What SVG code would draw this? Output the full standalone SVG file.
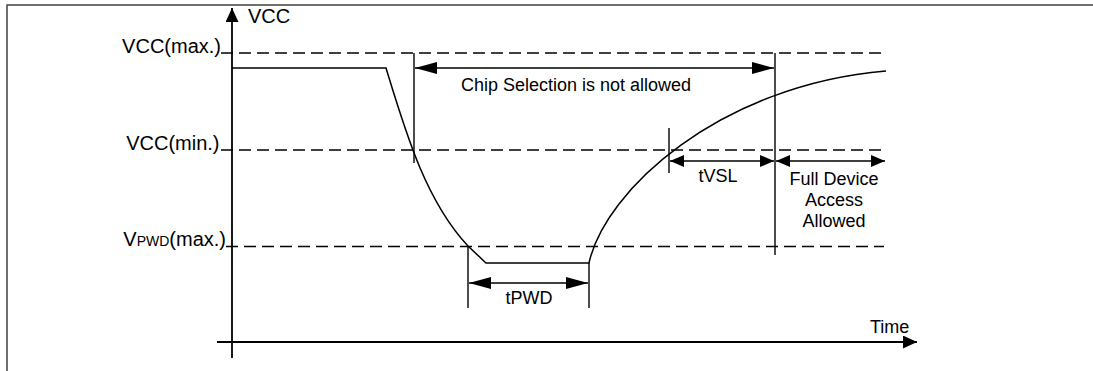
<svg xmlns="http://www.w3.org/2000/svg" width="1093" height="371" viewBox="0 0 1093 371">
<style>
text{font-family:"Liberation Sans",Arial,sans-serif;fill:#000}
.lbl{font-size:20px}
.sm{font-size:18px}
.mid{text-anchor:middle}
.end{text-anchor:end}
.axis{stroke:#000;stroke-width:1.8;fill:none}
.dash{stroke:#000;stroke-width:1.4;stroke-dasharray:12 6;fill:none}
.sig{stroke:#000;stroke-width:1.5;fill:none}
.mark{stroke:#000;stroke-width:1.4;fill:none}
.dimL{stroke:#000;stroke-width:1.6;fill:none;marker-start:url(#ahL);marker-end:url(#ahL)}
.dimS{stroke:#000;stroke-width:1.6;fill:none;marker-start:url(#ahS);marker-end:url(#ahS)}
</style>
<defs>
<marker id="ahL" markerUnits="userSpaceOnUse" markerWidth="22" markerHeight="12" viewBox="0 0 22 12" refX="22" refY="6" orient="auto-start-reverse"><path d="M0,0 L22,6 L0,12 Z" fill="#000"/></marker>
<marker id="ahS" markerUnits="userSpaceOnUse" markerWidth="14" markerHeight="12" viewBox="0 0 14 12" refX="14" refY="6" orient="auto-start-reverse"><path d="M0,0 L14,6 L0,12 Z" fill="#000"/></marker>
<marker id="ahA" markerUnits="userSpaceOnUse" markerWidth="14" markerHeight="13" viewBox="0 0 14 13" refX="14" refY="6.5" orient="auto"><path d="M0,0 L14,6.5 L0,13 Z" fill="#000"/></marker>
</defs>
<rect id="frame" x="7" y="5" width="1100" height="400" fill="#fff" stroke="#333" stroke-width="1.4"/>
<g id="axes">
<line class="axis" x1="232" y1="358" x2="232" y2="8" marker-end="url(#ahA)"/>
<line class="axis" x1="217" y1="342" x2="917" y2="342" marker-end="url(#ahA)"/>
<text class="lbl" x="248" y="23">VCC</text>
<text class="sm" x="870" y="333">Time</text>
</g>
<g id="levels">
<line class="dash" x1="221" y1="53" x2="882" y2="53"/>
<line class="dash" x1="221" y1="150" x2="882" y2="150"/>
<line class="dash" x1="226" y1="246.5" x2="884" y2="246.5"/>
<text class="lbl end" x="221" y="53">VCC(max.)</text>
<text class="lbl end" x="219.5" y="150">VCC(min.)</text>
<text class="lbl end" x="226" y="246">V<tspan font-size="14">PWD</tspan>(max.)</text>
</g>
<g id="signal">
<path class="sig" d="M232,68 L386,68 C405,130 425,200 468,246 L486,263 L589,263 C605,190 720,85 886,71"/>
</g>
<g id="markers">
<line class="mark" x1="414" y1="53" x2="414" y2="163"/>
<line class="mark" x1="775" y1="53" x2="775" y2="255"/>
<line class="mark" x1="669" y1="128" x2="669" y2="173"/>
<line class="mark" x1="468" y1="246" x2="468" y2="308"/>
<line class="mark" x1="589" y1="263" x2="589" y2="308"/>
</g>
<g id="connectors">
<line class="dimL" x1="415" y1="68" x2="774" y2="68"/>
<line class="dimL" x1="469" y1="283" x2="588" y2="283"/>
<line class="dimS" x1="670" y1="161" x2="774" y2="161"/>
<line class="dimS" x1="776" y1="161" x2="885" y2="161"/>
</g>
<g id="labels">
<text class="sm mid" x="576" y="91">Chip Selection is not allowed</text>
<text class="sm mid" x="529" y="304">tPWD</text>
<text class="sm mid" x="718" y="182">tVSL</text>
<text class="sm mid" x="834" y="185">Full Device</text>
<text class="sm mid" x="834" y="206">Access</text>
<text class="sm mid" x="834" y="227">Allowed</text>
</g>
</svg>
